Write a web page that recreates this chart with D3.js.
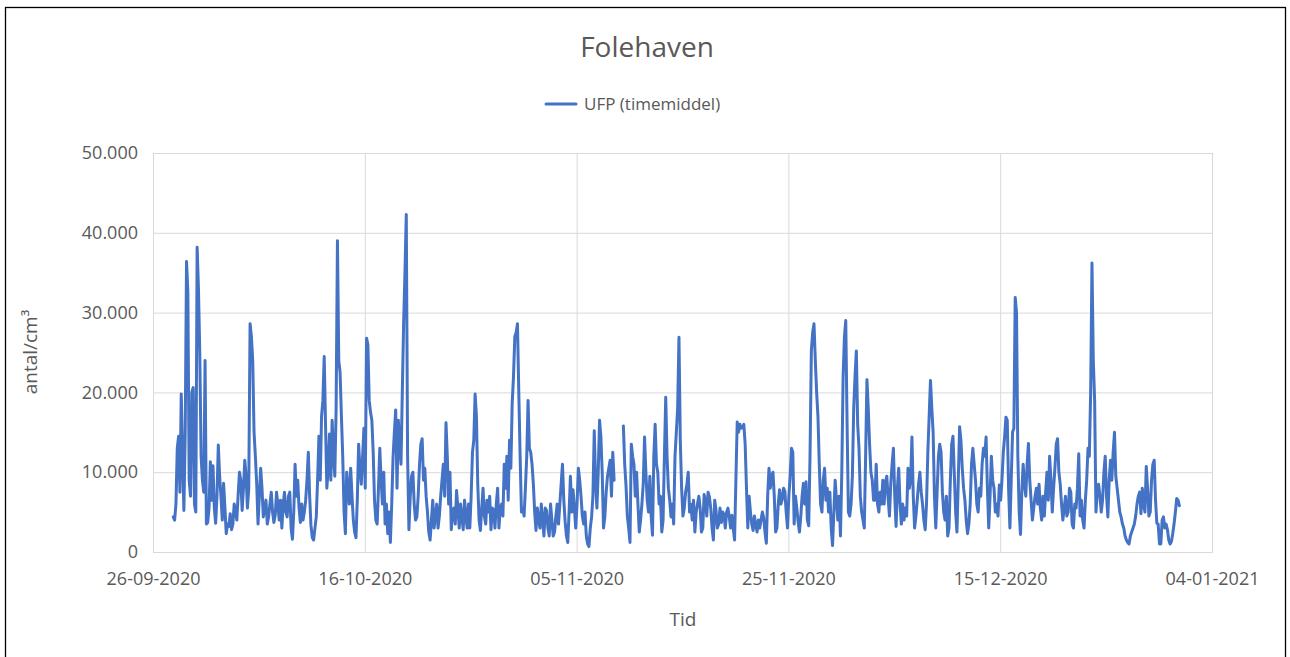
<!DOCTYPE html>
<html>
<head>
<meta charset="utf-8">
<script src="https://cdn.jsdelivr.net/npm/d3@7"></script>
<style>
  body { margin: 0; background: #fff; }
  svg { display: block; }
</style>
</head>
<body>
<svg id="chart" width="1290" height="657"></svg>
<script>
// Hourly-average ultrafine particle counts at Folehaven, one reading every 3 hours
const chartTitle = "Folehaven";
const seriesName = "UFP (timemiddel)";
const xAxisTitle = "Tid";
const yAxisTitle = "antal/cm³";
const seriesStart = [2020, 8, 27, 22]; // year, month (0-based), day, hour (UTC)
const stepHours = 3;

const ufpValues = [
  4400, 4000, 6000, 13000, 14500, 7500, 19800, 12000, 5200, 15000,
  36400, 32500, 9000, 7000, 20000, 20600, 6000, 5000, 38200, 33000,
  25000, 12000, 9000, 7500, 24000, 3500, 3700, 5500, 11300, 6500,
  10800, 5500, 3600, 7000, 13400, 9500, 7000, 4000, 8600, 5500,
  2300, 3500, 3200, 4800, 2800, 3500, 6000, 5200, 4000, 7200,
  10000, 9000, 5200, 8000, 11500, 9500, 5500, 8000, 28600, 27000,
  24000, 15000, 12000, 8600, 3500, 7000, 10500, 8000, 4400, 5500,
  6500, 3500, 4400, 6000, 7500, 5000, 3700, 4600, 7500, 6000,
  4000, 6500, 3000, 6000, 7500, 5000, 4400, 7000, 7500, 3000,
  1600, 5000, 11000, 7000, 9000, 5500, 3700, 6000, 4000, 5000,
  6500, 9000, 12500, 7000, 3300, 1800, 1500, 3000, 4400, 9000,
  14500, 9000, 17000, 19000, 24500, 16000, 8000, 10500, 14800, 9000,
  16500, 12000, 9500, 18000, 39000, 24000, 22500, 17000, 12000, 5000,
  2300, 10000, 8000, 6000, 10500, 7000, 4000, 2500, 1800, 6500,
  13500, 10500, 8500, 12000, 15500, 8000, 26800, 26000, 19000, 17500,
  16500, 12500, 6500, 4000, 3500, 8000, 13000, 9000, 6000, 10000,
  3500, 6000, 2300, 5000, 1200, 6000, 11800, 15000, 17800, 8000,
  16500, 13500, 11000, 20000, 28700, 35000, 42300, 12000, 2800, 7000,
  9500, 10000, 6000, 4000, 4400, 7000, 11000, 13500, 14200, 9000,
  10500, 7000, 5000, 2500, 1500, 4000, 6500, 3000, 4500, 6000,
  3000, 4500, 7000, 9000, 11000, 7000, 16200, 12000, 6000, 10000,
  2800, 5000, 5500, 3500, 7700, 5500, 3000, 6000, 4400, 2800,
  6500, 4500, 3000, 6000, 3000, 7000, 12500, 14000, 19800, 17000,
  8500, 4000, 2700, 5500, 8000, 4500, 3500, 6500, 5000, 7000,
  2800, 5500, 5300, 3000, 6000, 8000, 3000, 5500, 6000, 4500,
  11000, 8000, 12000, 6500, 14000, 10500, 18600, 22000, 27000, 27500,
  28600, 20000, 12000, 5000, 5500, 4500, 8000, 12000, 19000, 13000,
  12500, 11000, 8500, 5000, 2700, 5500, 4000, 3000, 6000, 4000,
  2000, 5500, 5200, 3000, 2000, 6000, 4000, 2000, 2500, 4500,
  6000, 3500, 6000, 8500, 11000, 6500, 3800, 2000, 1200, 5000,
  9500, 5000, 7800, 5500, 3000, 6000, 10500, 9000, 7000, 4500,
  3500, 5000, 2000, 1000, 700, 3000, 4400, 7000, 15200, 9000,
  5500, 10000, 16500, 14500, 10000, 3000, 4400, 7500, 9500, 10500,
  11500, 7000, 12500, 9000, null, null, null, null, null, null,
  15800, 11000, 8300, 4500, 3000, 1200, 13500, 12000, 11000, 7000,
  10000, 6000, 2500, 4000, 6000, 8500, 14400, 10000, 6500, 5000,
  9500, 4500, 2100, 12000, 16000, 11000, 10000, 6000, 7000, 2500,
  4000, 12000, 19400, 12000, 8000, 6500, 4400, 6000, 3500, 12000,
  15000, 18000, 26900, 14000, 8000, 4500, 5500, 7500, 8500, 10000,
  5000, 6000, 4000, 6500, 2500, 5000, 6000, 7000, 5500, 2500,
  3000, 7200, 6500, 4500, 7500, 6900, 5500, 3000, 1500, 6500,
  5200, 3000, 3500, 5500, 3700, 5000, 4700, 3000, 5000, 5500,
  4400, 3000, 4600, 3000, 1500, 9000, 16300, 15000, 16000, 15500,
  15600, 16000, 13500, 8000, 3000, 7000, 5000, 3500, 2700, 4500,
  3400, 2500, 4000, 3000, 4000, 5000, 4300, 2500, 1100, 7000,
  10500, 8000, 9500, 10000, 7000, 2500, 3000, 6000, 7800, 6000,
  6600, 8000, 7600, 5000, 3000, 7000, 9500, 13000, 12500, 3500,
  7000, 5500, 3800, 2500, 4400, 7000, 8600, 6000, 8800, 4000,
  3300, 12000, 25200, 27500, 28600, 24000, 20000, 17000, 11000, 6000,
  5000, 9000, 10500, 6500, 8000, 5000, 7500, 3000, 800, 5000,
  9000, 6500, 4000, 7000, 2000, 10000, 22000, 27000, 29000, 16000,
  5000, 4500, 6000, 9500, 18000, 22000, 25200, 16000, 13000, 7000,
  5000, 4000, 3000, 12000, 21600, 18000, 13500, 10000, 9000, 6500,
  6500, 11000, 6000, 5000, 7500, 6000, 9000, 6000, 8800, 9500,
  6800, 4500, 8500, 11000, 13000, 7000, 3200, 8000, 10500, 6000,
  3500, 6000, 4000, 5500, 4500, 10500, 8000, 9000, 14400, 7000,
  3000, 4500, 6500, 8500, 10000, 7500, 6000, 4000, 2800, 6000,
  12500, 17000, 21500, 18000, 15000, 7000, 3000, 7500, 12000, 13500,
  12500, 7500, 5000, 4000, 7000, 2000, 3000, 9000, 13500, 14500,
  9800, 5000, 2500, 9000, 15700, 14000, 10500, 8000, 6500, 4000,
  2300, 3500, 6000, 11000, 13000, 11000, 9000, 6000, 5000, 8000,
  7000, 11000, 13000, 12000, 14400, 8000, 3000, 7000, 12000, 9000,
  8000, 5000, 6000, 4500, 8400, 6500, 9000, 12500, 14400, 16900,
  16500, 8000, 3000, 9000, 15000, 15500, 31900, 30000, 12000, 5000,
  2200, 7500, 11000, 8500, 7000, 11000, 13600, 9000, 6500, 4000,
  5500, 7000, 8000, 6000, 8500, 5500, 4000, 7000, 4500, 7500,
  10000, 6500, 12000, 9000, 5000, 8000, 10500, 13500, 14200, 10000,
  8500, 6000, 4000, 5500, 7000, 4500, 5000, 8000, 7500, 3500,
  3000, 6000, 5500, 8000, 12300, 4500, 6500, 4000, 3000, 6500,
  9000, 13000, 12000, 20000, 36200, 24000, 19000, 5000, 7500, 8500,
  7000, 5000, 6500, 10000, 12000, 7000, 4400, 9000, 11500, 9000,
  12500, 15000, 9500, 8000, 6500, 5000, 4400, 3500, 3000, 2000,
  1500, 1200, 1000, 2000, 2500, 3000, 3500, 4500, 6000, 7000,
  7500, 4800, 8000, 6000, 5000, 10700, 8000, 4500, 5000, 9000,
  11000, 11500, 6500, 3600, 3500, 1000, 1000, 4000, 4400, 3000,
  3500, 2800, 1500, 1000, 1300, 2300, 3500, 5000, 6700, 6500,
  5800
];

const xTickLabels = ["26-09-2020", "16-10-2020", "05-11-2020", "25-11-2020", "15-12-2020", "04-01-2021"];
const yTickValues = [0, 10000, 20000, 30000, 40000, 50000];

const textColor = "#595959";
const gridColor = "#d9d9d9";
const lineColor = "#4472C4";
const fontFamily = "'Open Sans', 'Noto Sans', sans-serif";

const svg = d3.select("#chart");
const margin = { left: 153, right: 1290 - 1212, top: 153, bottom: 657 - 552 };
const plotW = 1290 - margin.left - margin.right;
const plotH = 657 - margin.top - margin.bottom;

const parseDay = d3.utcParse("%d-%m-%Y");
const fmtDay = d3.utcFormat("%d-%m-%Y");
const daLocale = d3.formatLocale({ decimal: ",", thousands: ".", grouping: [3], currency: ["", " kr."] });
const fmtNum = daLocale.format(",d");

const xTicks = xTickLabels.map(parseDay);
const t0 = Date.UTC(seriesStart[0], seriesStart[1], seriesStart[2], seriesStart[3]);
const series = ufpValues.map((v, i) => ({ date: new Date(t0 + i * stepHours * 3600e3), value: v }));

const x = d3.scaleUtc().domain([xTicks[0], xTicks[xTicks.length - 1]]).range([0, plotW]);
const y = d3.scaleLinear().domain([0, 50000]).range([plotH, 0]);

// Outer chart border
svg.append("rect")
  .attr("x", 5.5).attr("y", 7.5).attr("width", 1280).attr("height", 660)
  .attr("fill", "#fff").attr("stroke", "#000").attr("stroke-width", 1.3);

// Title
svg.append("text")
  .attr("x", 647).attr("y", 57)
  .attr("text-anchor", "middle")
  .attr("font-family", fontFamily).attr("font-size", 28)
  .attr("fill", textColor)
  .text(chartTitle);

// Legend
const legend = svg.append("g").attr("transform", "translate(546,104)");
legend.append("line").attr("x1", 0).attr("x2", 30).attr("y1", 0).attr("y2", 0)
  .attr("stroke", lineColor).attr("stroke-width", 3).attr("stroke-linecap", "round");
legend.append("text").attr("x", 38).attr("y", 6)
  .attr("font-family", fontFamily).attr("font-size", 17).attr("fill", textColor)
  .text(seriesName);

const g = svg.append("g").attr("transform", `translate(${margin.left},${margin.top})`);

// Horizontal gridlines and value labels
const yAxis = d3.axisLeft(y).tickValues(yTickValues).tickSize(-plotW).tickPadding(15).tickFormat(fmtNum);
const yAxisG = g.append("g").call(yAxis);
yAxisG.select(".domain").remove();
yAxisG.selectAll(".tick line").attr("stroke", gridColor).attr("stroke-width", 1);
yAxisG.selectAll(".tick text")
  .attr("font-family", fontFamily).attr("font-size", 18).attr("fill", textColor);

// Vertical gridlines and date labels
const xAxis = d3.axisBottom(x).tickValues(xTicks).tickSize(-plotH).tickPadding(20).tickFormat(fmtDay);
const xAxisG = g.append("g").attr("transform", `translate(0,${plotH})`).call(xAxis);
xAxisG.select(".domain").attr("stroke", gridColor);
xAxisG.selectAll(".tick line").attr("stroke", gridColor).attr("stroke-width", 1);
xAxisG.selectAll(".tick text")
  .attr("font-family", fontFamily).attr("font-size", 18).attr("fill", textColor);

// Data line (gaps where readings are missing)
const line = d3.line()
  .defined(d => d.value != null)
  .x(d => x(d.date))
  .y(d => y(d.value));

g.append("path")
  .datum(series)
  .attr("fill", "none")
  .attr("stroke", lineColor)
  .attr("stroke-width", 3)
  .attr("stroke-linejoin", "round")
  .attr("stroke-linecap", "round")
  .attr("d", line);

// Axis titles
svg.append("text")
  .attr("x", 683).attr("y", 626)
  .attr("text-anchor", "middle")
  .attr("font-family", fontFamily).attr("font-size", 19).attr("fill", textColor)
  .text(xAxisTitle);

svg.append("text")
  .attr("transform", "translate(37,352) rotate(-90)")
  .attr("text-anchor", "middle")
  .attr("font-family", fontFamily).attr("font-size", 19).attr("fill", textColor)
  .text(yAxisTitle);
</script>
</body>
</html>
